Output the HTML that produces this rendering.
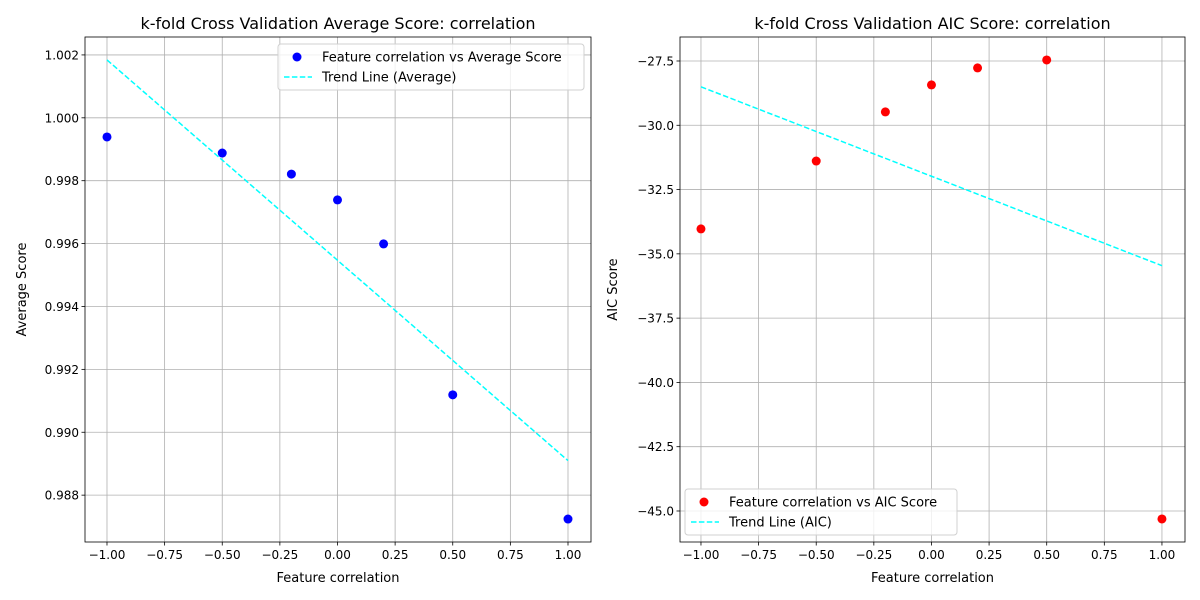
<!DOCTYPE html>
<html><head><meta charset="utf-8"><style>
body{margin:0;background:#fff;}
svg{display:block;font-family:"DejaVu Sans","Liberation Sans",sans-serif;}
</style></head><body>
<svg id="svg" width="1200" height="600" viewBox="0 0 1200 600"></svg>
<script>
const xVals = [-1, -0.5, -0.2, 0, 0.2, 0.5, 1];
const avgScores = [0.99939, 0.99888, 0.99821, 0.99739, 0.99599, 0.99119, 0.98724];
const aicScores = [-34.03, -31.39, -29.48, -28.43, -27.77, -27.46, -45.31];
const xTicks = [-1, -0.75, -0.5, -0.25, 0, 0.25, 0.5, 0.75, 1];
const xTickLabels = ["−1.00","−0.75","−0.50","−0.25","0.00","0.25","0.50","0.75","1.00"];
const avgTicks = [0.988, 0.990, 0.992, 0.994, 0.996, 0.998, 1.000, 1.002];
const avgTickLabels = ["0.988","0.990","0.992","0.994","0.996","0.998","1.000","1.002"];
const aicTicks = [-45, -42.5, -40, -37.5, -35, -32.5, -30, -27.5];
const aicTickLabels = ["−45.0","−42.5","−40.0","−37.5","−35.0","−32.5","−30.0","−27.5"];

const NS = "http://www.w3.org/2000/svg";
const svg = document.getElementById("svg");
function mk(tag, attrs, parent, text){
  const e = document.createElementNS(NS, tag);
  for (const k in attrs) e.setAttribute(k, attrs[k]);
  if (text !== undefined) e.textContent = text;
  (parent || svg).appendChild(e);
  return e;
}
function fit(xs, ys){
  const n = xs.length; let mx=0,my=0;
  for(let i=0;i<n;i++){mx+=xs[i];my+=ys[i];} mx/=n; my/=n;
  let sxy=0,sxx=0;
  for(let i=0;i<n;i++){sxy+=(xs[i]-mx)*(ys[i]-my);sxx+=(xs[i]-mx)**2;}
  const m=sxy/sxx; return {m:m,b:my-m*mx};
}
function panel(cfg){
  const {L,R,T,B,xmin,xmax,ymin,ymax} = cfg;
  const sx = v => L + (v - xmin)/(xmax - xmin)*(R-L);
  const sy = v => B - (v - ymin)/(ymax - ymin)*(B-T);
  const g = mk("g", {});
  
  
  xTicks.forEach((t,i)=>{
    const x = sx(t);
    const gl = mk("line",{x1:x,x2:x,y1:T,y2:B,stroke:"#b0b0b0","stroke-width":0.8},g);
    
    
    mk("line",{x1:x,x2:x,y1:B,y2:B+3.5,stroke:"#000","stroke-width":0.8},g);
    const tl = mk("text",{x:x,y:B+17,"font-size":12,"text-anchor":"middle"},g,xTickLabels[i]);
    
    
  });
  cfg.yTicks.forEach((t,i)=>{
    const y = sy(t);
    const gl = mk("line",{x1:L,x2:R,y1:y,y2:y,stroke:"#b0b0b0","stroke-width":0.8},g);
    
    
    mk("line",{x1:L-3.5,x2:L,y1:y,y2:y,stroke:"#000","stroke-width":0.8},g);
    const tl = mk("text",{x:L-6,y:y+4.5,"font-size":12,"text-anchor":"end"},g,cfg.yTickLabels[i]);
    
    
  });
  const f = fit(xVals, cfg.ys);
  const tr = mk("line",{x1:sx(-1),y1:sy(f.m*-1+f.b),x2:sx(1),y2:sy(f.m*1+f.b),stroke:"#00ffff","stroke-width":1.5,"stroke-dasharray":"5.5,2.4"},g);
  
  
  cfg.ys.forEach((v,i)=>{
    const c = mk("circle",{cx:sx(xVals[i]),cy:sy(v),r:4.5,fill:cfg.color},g);
    
    
  });
  const fr = mk("rect",{x:L,y:T,width:R-L,height:B-T,fill:"none",stroke:"#000","stroke-width":0.8},g);
  
  
  const ti = mk("text",{x:(L+R)/2,y:T-8,"font-size":16,"text-anchor":"middle"},g,cfg.title);
  
  
  const xl = mk("text",{x:(L+R)/2,y:582,"font-size":13,"text-anchor":"middle"},g,"Feature correlation");
  
  
  const yx = cfg.ylabelX, yy=(T+B)/2;
  const yl = mk("text",{x:yx,y:yy,"font-size":13,"text-anchor":"middle",transform:`rotate(-90 ${yx} ${yy})`},g,cfg.ylabel);
  
  
  const lg = mk("g",{},g);
  
  
  const [lx,ly,lw] = cfg.legend;
  mk("rect",{x:lx,y:ly,width:lw,height:46,rx:3,fill:"#fff","fill-opacity":0.8,stroke:"#d0d0d0","stroke-width":1},lg);
  mk("circle",{cx:lx+19,cy:ly+13,r:4.5,fill:cfg.color},lg);
  mk("text",{x:lx+44,y:ly+17.5,"font-size":13},lg,cfg.leg1);
  mk("line",{x1:lx+6,x2:lx+34,y1:ly+33,y2:ly+33,stroke:"#00ffff","stroke-width":1.5,"stroke-dasharray":"5.5,2.4"},lg);
  mk("text",{x:lx+44,y:ly+37.5,"font-size":13},lg,cfg.leg2);
}
panel({name:"average-score-panel",L:85,R:591,T:37,B:542,xmin:-1.0954,xmax:1.0998,ymin:0.98651,ymax:1.00257,
  ys:avgScores,yTicks:avgTicks,yTickLabels:avgTickLabels,color:"#0000ff",
  title:"k-fold Cross Validation Average Score: correlation",ylabel:"Average Score",ylabelX:26,
  legend:[278,44,306],leg1:"Feature correlation vs Average Score",leg2:"Trend Line (Average)"});
panel({name:"aic-score-panel",L:680,R:1185,T:37,B:542,xmin:-1.091,xmax:1.1,ymin:-46.206,ymax:-26.567,
  ys:aicScores,yTicks:aicTicks,yTickLabels:aicTickLabels,color:"#ff0000",
  title:"k-fold Cross Validation AIC Score: correlation",ylabel:"AIC Score",ylabelX:617,
  legend:[685,489,272],leg1:"Feature correlation vs AIC Score",leg2:"Trend Line (AIC)"});
</script>
</body></html>
